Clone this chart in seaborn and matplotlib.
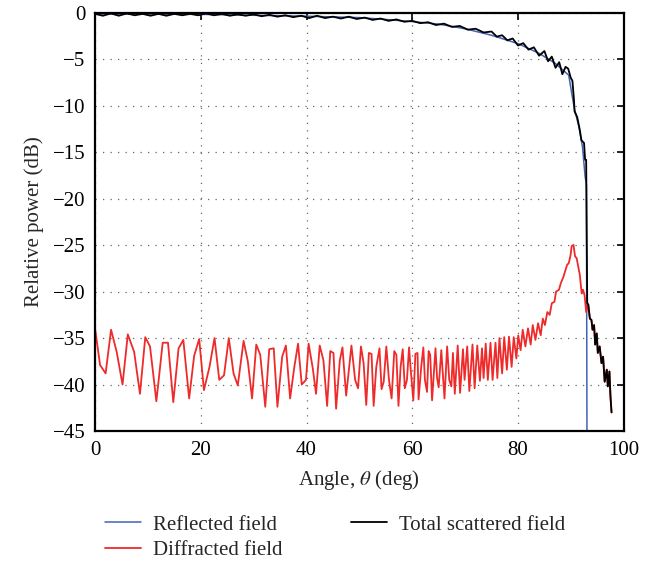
import matplotlib
matplotlib.use("Agg")
import matplotlib.pyplot as plt
import pandas as pd
import seaborn as sns

# Reflected field (smooth, then abrupt drop at ~93 deg)
refl_x = [0, 10, 20, 30, 40, 50, 55, 60, 65, 70, 75, 80, 84, 87, 89.6, 90.6, 91.5, 92.2, 92.7, 92.95, 93.05]
refl_y = [-0.1, -0.12, -0.15, -0.25, -0.35, -0.5, -0.7, -0.93, -1.2, -1.7, -2.4, -3.3, -4.35, -5.4, -6.7,
          -10.1, -12.2, -14.4, -17.6, -18.5, -45]

# Diffracted field
diff_x = [0, 0.95, 2.0, 3.03, 4.1, 5.2, 6.2, 7.4, 8.5, 9.5, 10.4, 11.6, 12.8, 13.8, 14.8, 15.8, 16.7, 17.8,
          18.75, 19.7, 20.6, 21.65, 22.6, 23.5, 24.4, 25.3, 26.2, 27.0, 28.1, 28.9, 29.7, 30.5, 31.25, 32.2,
          32.95, 33.8, 34.5, 35.4, 36.1, 36.9, 37.7, 38.4, 39.1, 39.9, 40.4, 41.2, 41.8, 42.5, 43.2, 43.9,
          44.5, 45.1, 45.6, 46.3, 46.8, 47.5, 48.5, 49.2, 49.75, 50.3, 50.8, 51.3, 51.8, 52.3, 52.7, 53.2,
          53.8, 54.2, 54.6, 55.1, 55.6, 56.1, 56.6, 57.0, 57.4, 57.8, 58.2, 58.6, 59.0, 59.4, 59.7, 60.2,
          60.6, 61.0, 61.2, 61.7, 62.1, 62.4, 62.8, 63.1, 63.4, 63.75, 64.4, 64.7, 65.0, 65.5, 65.7, 66.1,
          66.6, 67.0, 67.4, 67.7, 68.05, 68.6, 69.05, 69.6, 69.9, 70.4, 70.8, 71.4, 71.8, 72.3, 72.8, 73.2,
          73.5, 73.9, 74.3, 74.8, 75.2, 75.75, 76.1, 76.5, 77.0, 77.4, 77.9, 78.3, 78.8, 79.2, 79.7, 80.05,
          80.5, 80.9, 81.4, 81.9, 82.4, 82.8, 83.3, 83.8, 84.3, 84.7, 85.1, 85.55, 86.0, 86.4, 86.9, 87.2,
          87.75, 88.1, 88.6, 88.9, 89.3, 89.6, 89.96, 90.15, 90.5, 90.8, 91.1, 91.4, 91.7, 92.05, 92.3,
          92.6, 92.9, 93.3, 93.6, 93.9, 94.1, 94.4, 94.6, 94.9, 95.1, 95.45, 95.8, 96.1, 96.4, 96.8, 97.0,
          97.3, 97.5, 97.7]
diff_y = [-33.95, -37.9, -38.8, -34.1, -36.5, -40.0, -34.6, -36.5, -41.0, -34.9, -35.9, -41.8, -35.5, -35.5,
          -41.9, -36.1, -35.2, -41.5, -36.9, -35.1, -40.6, -38.1, -35.0, -39.5, -39.0, -35.0, -38.8, -40.1,
          -35.3, -37.5, -41.5, -35.7, -36.8, -42.4, -36.2, -36.1, -42.4, -37.0, -35.8, -41.5, -38.1, -35.6,
          -40.0, -39.5, -35.6, -38.3, -41.0, -35.8, -37.4, -42.3, -36.4, -36.6, -42.6, -37.4, -36.0, -41.2,
          -35.8, -39.5, -40.4, -35.9, -37.7, -42.2, -36.6, -36.7, -42.3, -38.1, -36.1, -40.5, -39.7, -35.9,
          -39.5, -41.5, -36.4, -36.8, -42.3, -38.1, -36.2, -40.4, -39.5, -36.0, -38.3, -41.7, -36.7, -36.6,
          -41.6, -38.1, -36.0, -39.5, -40.8, -36.4, -36.8, -41.7, -36.1, -39.3, -40.3, -36.3, -38.1, -41.5,
          -35.9, -39.5, -40.2, -36.6, -41.0, -35.8, -40.9, -36.2, -39.5, -35.9, -40.7, -35.7, -40.4, -35.8,
          -39.6, -36.1, -39.3, -35.6, -39.5, -35.5, -39.5, -35.5, -39.3, -35.0, -38.8, -34.9, -38.4, -34.85,
          -38.1, -34.9, -37.2, -34.7, -36.3, -34.1, -35.9, -33.95, -35.7, -33.6, -35.2, -33.4, -34.7, -32.9,
          -33.6, -32.2, -32.5, -31.25, -31.1, -30.0, -29.8, -29.1, -28.4, -27.85, -27.1, -26.95, -26.05,
          -25.1, -24.97, -26.2, -26.4, -27.3, -28.2, -30.2, -29.8, -30.4, -32.2, -31.4, -32.9, -33.05, -34.1,
          -33.6, -35.7, -34.5, -36.6, -35.9, -37.7, -37.0, -39.7, -38.4, -40.2, -38.6, -41.3, -43.0]

# Total scattered field up to the drop; past ~93 deg it follows the diffracted field
total_x = [0, 1.5, 3, 4.5, 6, 7.5, 9, 10.5, 12, 13.5, 15, 16.5, 18, 19.5, 21, 22.5, 24, 25.5, 27, 28.5, 30,
           31.5, 33, 34.5, 36, 37.5, 39, 40.5, 42, 43.5, 45, 46.5, 48, 49.5, 51, 52.5, 54, 55.5, 57, 58.5,
           60, 61.5, 63, 64.5, 66, 67.5, 69, 70.5, 72, 73.5, 75, 76, 77, 78, 79, 80, 81, 82, 83, 84, 85,
           85.7, 86.4, 87.1, 87.8, 88.4, 89.0, 89.5, 90.0, 90.3, 90.6, 90.7, 91.2, 91.7, 92.0, 92.5, 92.7,
           92.9, 93.1]
total_y = [-0.1, -0.3, -0.05, -0.3, -0.05, -0.25, -0.1, -0.3, -0.1, -0.3, -0.1, -0.25, -0.1, -0.25, -0.05,
           -0.25, -0.1, -0.3, -0.15, -0.3, -0.15, -0.35, -0.2, -0.4, -0.25, -0.45, -0.3, -0.55, -0.3, -0.55,
           -0.4, -0.6, -0.4, -0.65, -0.5, -0.75, -0.6, -0.85, -0.7, -0.95, -0.85, -1.1, -1.0, -1.3, -1.15,
           -1.5, -1.4, -1.8, -1.7, -2.1, -2.0, -2.55, -2.4, -2.95, -2.75, -3.5, -3.25, -3.95, -3.7, -4.6,
           -4.1, -5.2, -4.7, -5.9, -5.3, -6.6, -5.8, -6.0, -7.0, -7.3, -9.4, -10.6, -11.2, -12.6, -13.7,
           -14.0, -15.8, -15.8, -31.2]
tail = [(x, y) for x, y in zip(diff_x, diff_y) if x > 93.1]
total_x = total_x + [t[0] for t in tail]
total_y = total_y + [t[1] for t in tail]

sns.set_style("white")
plt.rcParams["font.family"] = ["Liberation Serif", "DejaVu Serif"]
plt.rcParams["mathtext.fontset"] = "stix"

fig = plt.figure(figsize=(6.6, 5.63), dpi=100)
ax = fig.add_axes([0.144, 0.2345, 0.801, 0.7425])

blue = "#3f63b8"
red = "#ee2a2a"

sns.lineplot(x=refl_x, y=refl_y, ax=ax, color=blue, linewidth=1.1, estimator=None, sort=False,
             label="Reflected field")
sns.lineplot(x=diff_x, y=diff_y, ax=ax, color=red, linewidth=1.3, estimator=None, sort=False,
             label="Diffracted field")
sns.lineplot(x=total_x, y=total_y, ax=ax, color="black", linewidth=1.3, estimator=None, sort=False,
             label="Total scattered field")

ax.set_xlim(0, 100)
ax.set_ylim(-45, 0)
ax.set_xticks(range(0, 101, 20))
ax.set_yticks(range(-45, 1, 5))
ax.set_yticklabels(["\u2212%d" % abs(v) if v < 0 else "%d" % v for v in range(-45, 1, 5)])
ax.grid(True, linestyle=(0, (1, 5)), color="#666666", linewidth=0.9)
ax.tick_params(direction="in", top=True, right=True, length=5, width=1.2, labelsize=15, colors="black",
               pad=7)
for s in ax.spines.values():
    s.set_color("black")
    s.set_linewidth(1.6)

ax.set_xlabel(r"Angle, $\theta$ (deg)", fontsize=15, labelpad=6)
ax.set_ylabel("Relative power (dB)", fontsize=15, labelpad=6)

handles, labels = ax.get_legend_handles_labels()
ax.get_legend().remove()
fig.legend(handles, labels, ncol=2, loc="center", bbox_to_anchor=(0.508, 0.045), frameon=False,
           fontsize=15, handlelength=1.7, handletextpad=0.6, columnspacing=3.3, labelspacing=0.3)

fig.savefig("out.png", dpi=100)
